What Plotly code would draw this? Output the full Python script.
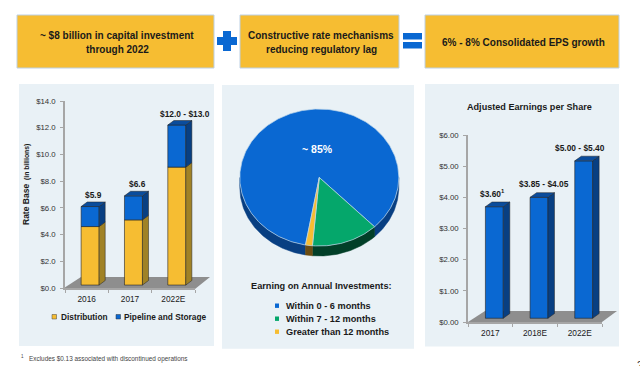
import math
import plotly.graph_objects as go

W, H = 640, 366

# ---- data ----
rate_years = ["2016", "2017", "2022E"]
rate_distribution = [4.6, 5.1, 9.05]
rate_pipeline = [1.5, 1.8, 3.15]
rate_labels = ["$5.9", "$6.6", "$12.0 - $13.0"]
rate_ticks = [0, 2, 4, 6, 8, 10, 12, 14]

eps_years = ["2017", "2018E", "2022E"]
eps_values = [3.70, 4.00, 5.17]
eps_labels = ["$3.60<sup>1</sup>", "$3.85 - $4.05", "$5.00 - $5.40"]
eps_ticks = [0, 1, 2, 3, 4, 5, 6]

pie_names = ["Within 0 - 6 months", "Within 7 - 12 months", "Greater than 12 months"]
pie_shares = [85.0, 13.6, 1.4]

# ---- style ----
FONT = "Liberation Sans"
BLUE, BLUE_SIDE, BLUE_TOP = "#0a68d2", "#083f82", "#0a4c9c"
GOLD, GOLD_SIDE = "#f6bd32", "#a08226"
GREEN, GREEN_SIDE = "#05a76b", "#023f28"
GOLD_WALL = "#6a4c12"
PANEL = "#e9f1f6"
TXT = "#1a1a1a"
AXIS = "#a6a6a6"


def fx(p):
    return p / W


def fy(p):
    return 1 - p / H


def rect(x0, y0, x1, y1, fill, line=None, lw=0):
    return dict(type="rect", xref="paper", yref="paper", x0=fx(x0), x1=fx(x1), y0=fy(y1), y1=fy(y0),
                fillcolor=fill, line=dict(color=line or fill, width=lw), layer="below")


def poly(pts, fill):
    path = "M" + " L".join(f"{fx(a):.5f},{fy(b):.5f}" for a, b in pts) + " Z"
    return dict(type="path", xref="paper", yref="paper", path=path, fillcolor=fill,
                line=dict(width=0), layer="below")


def note(text, x, y, size=10, color=TXT, bold=True, anchor="center", angle=0):
    return dict(text=f"<b>{text}</b>" if bold else text, xref="paper", yref="paper", x=fx(x), y=fy(y),
                xanchor=anchor, yanchor="middle", showarrow=False, textangle=angle,
                font=dict(family=FONT, size=size, color=color))


fig = go.Figure()
shapes, notes = [], []

# ---- top banner ----
for x0, x1 in [(17, 214), (240, 399), (425, 619)]:
    shapes.append(rect(x0, 15, x1, 68, GOLD, "#bcd0e4", 1))
shapes += [rect(217, 37, 237, 45, BLUE), rect(223, 31, 231, 51, BLUE),
           rect(403, 33, 422, 39.5, BLUE), rect(403, 42, 422, 48.5, BLUE)]
notes += [note("~ $8 billion in capital investment", 117, 35, 10),
          note("through 2022", 117, 49, 10),
          note("Constructive rate mechanisms", 321, 35, 10),
          note("reducing regulatory lag", 321, 49, 10),
          note("6% - 8% Consolidated EPS growth", 523.5, 42, 10)]

# ---- panels ----
shapes += [rect(19, 84, 214, 346, PANEL), rect(222, 85, 414, 348.7, PANEL), rect(425, 84, 619, 346.5, PANEL)]

# ---- floors ----
shapes.append(poly([(64, 288), (81, 277), (210, 277), (195, 289)], "#8e8e8e"))
shapes.append(poly([(468, 322), (485, 311), (617, 311), (602, 322)], "#8e8e8e"))


def side_and_top(xc, half, y0, y1, dx, dy, axis, side, top=None):
    xr = xc + half
    xs = [xr, xr + dx, xr + dx, xr, xr]
    ys = [y0, y0 + dy, y1 + dy, y1, y0]
    fig.add_trace(go.Scatter(x=xs, y=ys, mode="lines", fill="toself", fillcolor=side, showlegend=False,
                             line=dict(color="#222222", width=0.5), xaxis=f"x{axis}", yaxis=f"y{axis}",
                             hoverinfo="skip"))
    if top:
        xl = xc - half
        xt = [xl, xr, xr + dx, xl + dx, xl]
        yt = [y1, y1, y1 + dy, y1 + dy, y1]
        fig.add_trace(go.Scatter(x=xt, y=yt, mode="lines", fill="toself", fillcolor=top, showlegend=False,
                                 line=dict(color="#222222", width=0.5), xaxis=f"x{axis}", yaxis=f"y{axis}",
                                 hoverinfo="skip"))


# ---- rate base chart ----
r_x = [i + 0.08 for i in range(3)]
r_lift, r_w, r_dx, r_dy = 0.22, 0.415, 0.14, 0.34
r_tops = [a + b for a, b in zip(rate_distribution, rate_pipeline)]
fig.add_trace(go.Bar(x=r_x, y=[d - r_lift for d in rate_distribution], base=[r_lift] * 3, width=r_w,
                     name="Distribution", marker=dict(color=GOLD, line=dict(color="#222222", width=0.6)),
                     xaxis="x", yaxis="y", showlegend=False))
fig.add_trace(go.Bar(x=r_x, y=rate_pipeline, base=rate_distribution, width=r_w,
                     name="Pipeline and Storage", marker=dict(color=BLUE, line=dict(color="#222222", width=0.6)),
                     xaxis="x", yaxis="y", showlegend=False))
for i in range(3):
    side_and_top(r_x[i], r_w / 2, r_lift, rate_distribution[i], r_dx, r_dy, "", GOLD_SIDE)
    side_and_top(r_x[i], r_w / 2, rate_distribution[i], r_tops[i], r_dx, r_dy, "", BLUE_SIDE, BLUE_TOP)

for i, sh in enumerate([3, 4, 8.5]):
    notes.append(dict(text=f"<b>{rate_labels[i]}</b>", xref="x", yref="y", x=i + 0.08, y=r_tops[i], yshift=11.5,
                      xshift=sh, showarrow=False, yanchor="middle", font=dict(family=FONT, size=8.4, color=TXT)))
notes += [note("Rate Base", 26, 205, 8.5, angle=-90), note("(in billions)", 27, 162, 6.8, angle=-90)]
shapes += [rect(52, 314.5, 56.5, 319, GOLD, "#444444", 0.5), rect(116, 314.5, 120.5, 319, BLUE, "#333333", 0.5)]
notes += [note("Distribution", 59, 317, 8.3, anchor="left"), note("Pipeline and Storage", 122.3, 317, 8.3, anchor="left")]

# ---- investment pie: an elliptical disc with a rim, drawn on its own axes ----
P_CX, P_CY, P_RX, P_RY = 319.3, 177.5, 79.5, 68.5
P_DEPTH = 10 / P_RY
pie_tops = [BLUE, GREEN, GOLD]
pie_walls = [BLUE_SIDE, GREEN_SIDE, GOLD_WALL]
starts = {}
ang = 100.0  # blue begins just past the bottom and runs clockwise on screen
for k, share in enumerate(pie_shares):
    sweep = share * 3.6
    starts[k] = (ang, ang + sweep)
    ang += sweep


def arc(a0, a1, n=None):
    n = n or max(2, int(abs(a1 - a0)))
    return [a0 + (a1 - a0) * j / n for j in range(n + 1)]


for k in range(3):
    a0, a1 = starts[k]
    for lo, hi in [(a0, a1), (a0 - 360, a1 - 360)]:
        lo2, hi2 = max(lo, 0), min(hi, 180)
        if hi2 <= lo2:
            continue
        angs = arc(lo2, hi2)
        xs = [math.cos(math.radians(t)) for t in angs]
        ys = [-math.sin(math.radians(t)) for t in angs]
        xs2 = xs + xs[::-1] + xs[:1]
        ys2 = ys + [v - P_DEPTH for v in ys[::-1]] + ys[:1]
        fig.add_trace(go.Scatter(x=xs2, y=ys2, mode="lines", fill="toself", fillcolor=pie_walls[k],
                                 line=dict(color=pie_walls[k], width=0.5), showlegend=False,
                                 xaxis="x3", yaxis="y3", hoverinfo="skip"))
for k in range(3):
    a0, a1 = starts[k]
    angs = arc(a0, a1)
    xs = [0] + [math.cos(math.radians(t)) for t in angs] + [0]
    ys = [0] + [-math.sin(math.radians(t)) for t in angs] + [0]
    fig.add_trace(go.Scatter(x=xs, y=ys, mode="lines", fill="toself", fillcolor=pie_tops[k], name=pie_names[k],
                             line=dict(color="#bcd6ea", width=0.7), showlegend=False,
                             xaxis="x3", yaxis="y3", hoverinfo="name"))
notes.append(note("~ 85%", 317, 149, 10.5, color="#ffffff"))
notes.append(note("Earning on Annual Investments:", 321, 286, 9.2))
for k, yy in enumerate([305.7, 318.7, 331.7]):
    shapes.append(rect(275, yy - 2.2, 279, yy + 2.2, pie_tops[k]))
    notes.append(note(pie_names[k], 283.7, yy, 9.2, anchor="left"))

# ---- EPS chart ----
e_x = [i + 0.09 for i in range(3)]
e_lift, e_w, e_dx, e_dy = 0.12, 0.4, 0.146, 0.15
fig.add_trace(go.Bar(x=e_x, y=[v - e_lift for v in eps_values], base=[e_lift] * 3, width=e_w,
                     name="Adjusted EPS", marker=dict(color=BLUE, line=dict(color="#222222", width=0.6)),
                     xaxis="x2", yaxis="y2", showlegend=False))
for i in range(3):
    side_and_top(e_x[i], e_w / 2, e_lift, eps_values[i], e_dx, e_dy, "2", BLUE_SIDE, BLUE_TOP)
for i, sh in enumerate([-2, 5, -4]):
    notes.append(dict(text=f"<b>{eps_labels[i]}</b>", xref="x2", yref="y2", x=i + 0.09, y=eps_values[i], yshift=13,
                      xshift=sh, showarrow=False, yanchor="middle", font=dict(family=FONT, size=8.4, color=TXT)))
notes.append(note("Adjusted Earnings per Share", 529, 107, 9.1))

# ---- footnote and page number ----
notes.append(note("<sup>1</sup>", 19, 356, 6.4, color="#444444", bold=False, anchor="left"))
notes.append(note("Excludes $0.13 associated with discontinued operations", 26.7, 359, 6.4, color="#444444",
                  bold=False, anchor="left"))
notes.append(note("2", 634.5, 365, 10, color="#333333", bold=False, anchor="left"))


def x_axis(dom, labels):
    return dict(domain=[fx(dom[0]), fx(dom[1])], range=[-0.5, 2.5], tickvals=[0, 1, 2], ticktext=labels,
                ticks="", showline=True, linecolor=AXIS, linewidth=1.5, showgrid=False, zeroline=False,
                automargin=False, ticklabelstandoff=2,
                tickfont=dict(family=FONT, size=8.3, color=TXT),
                minor=dict(tickvals=[-0.5, 0.5, 1.5, 2.5], ticks="outside", ticklen=3, tickcolor=AXIS, showgrid=False))


def y_axis(dom, rng, ticks, fmt, anchor):
    return dict(domain=[fy(dom[1]), fy(dom[0])], range=rng, tickvals=ticks, ticktext=[fmt.format(t) for t in ticks],
                ticks="outside", ticklen=3, tickcolor=AXIS, showline=True, linecolor=AXIS, linewidth=1.5,
                showgrid=False, zeroline=False, anchor=anchor, automargin=False, ticklabelstandoff=3,
                tickfont=dict(family=FONT, size=7.8, color="#333333"))


fig.update_layout(
    width=W, height=H, autosize=False, margin=dict(l=0, r=0, t=0, b=0, autoexpand=False),
    paper_bgcolor="white", plot_bgcolor="rgba(0,0,0,0)", barmode="overlay", showlegend=False,
    xaxis=x_axis((65, 195), rate_years),
    yaxis=y_axis((101, 288), [0, 14], rate_ticks, "${:.1f}", "x"),
    xaxis2=x_axis((468, 602), eps_years) | dict(anchor="y2"),
    yaxis2=y_axis((135, 322), [0, 6], eps_ticks, "${:.2f}", "x2"),
    xaxis3=dict(domain=[fx(230), fx(410)], range=[(230 - P_CX) / P_RX, (410 - P_CX) / P_RX], visible=False,
                anchor="y3", automargin=False),
    yaxis3=dict(domain=[fy(270), fy(100)], range=[(P_CY - 270) / P_RY, (P_CY - 100) / P_RY], visible=False,
                anchor="x3", automargin=False),
    shapes=shapes, annotations=notes,
)

fig.write_html("out.html", post_script="document.body.style.margin='0';document.body.style.overflow='hidden';",
               config={"displayModeBar": False})
